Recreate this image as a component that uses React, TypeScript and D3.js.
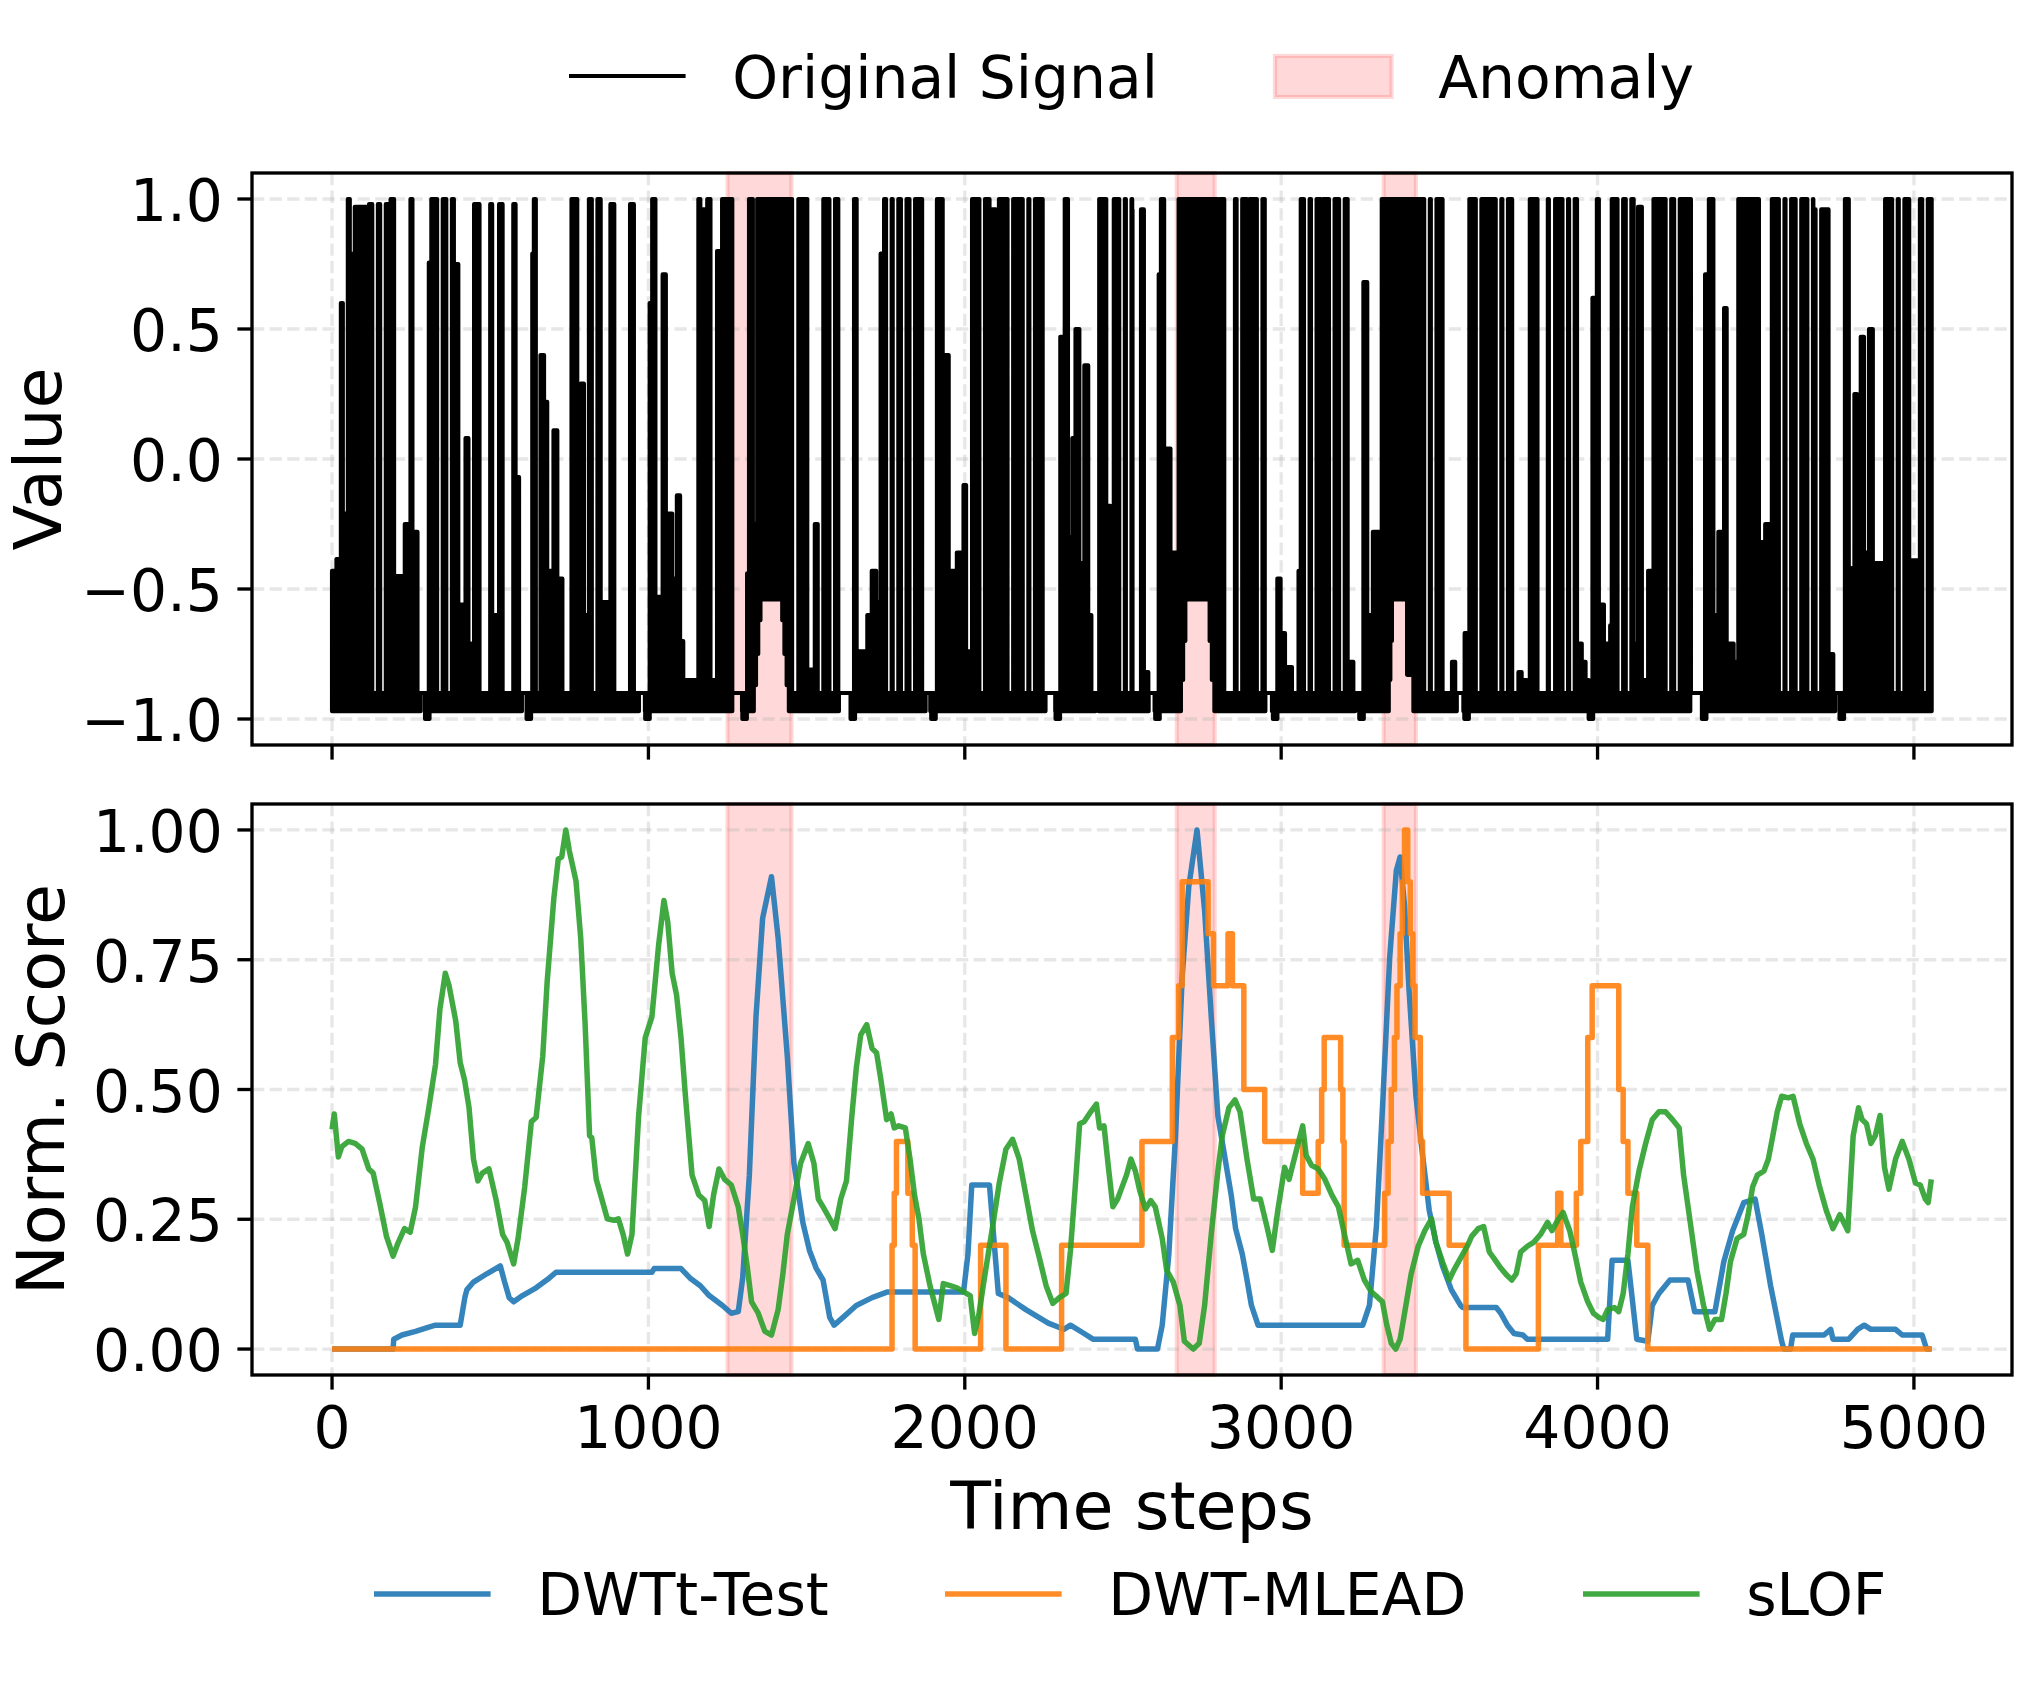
import React from "react";
import * as d3 from "d3";

const W = 2040;
const H = 1681;
const FONT = "'DejaVu Sans', Verdana, sans-serif";
const TICK_FS = 58.3;
const LABEL_FS = 66.7;

// axes boxes (pixels)
const PLOT_L = 252;
const PLOT_R = 2012;
const TOP_T = 173;
const TOP_B = 745;
const BOT_T = 804;
const BOT_B = 1375;

const X_TICKS = [0, 1000, 2000, 3000, 4000, 5000];
const VALUE_TICKS = [-1.0, -0.5, 0.0, 0.5, 1.0];
const SCORE_TICKS = [0, 0.25, 0.5, 0.75, 1.0];

const ANOMALY_RANGES: [number, number][] = [
  [1250, 1452],
  [2670, 2790],
  [3324, 3426],
];

const T_END = 5056;

// Original signal, read as an envelope: dense bursts [start, end, top]
const SIGNAL_BURSTS: [number, number, number][] = [
  [0, 14, -0.43], [14, 28, -0.385], [28, 34, 0.6], [34, 44, -0.21], [44, 49, -0.4],
  [50, 56, 1.0], [56, 62, 0.79], [72, 112, 0.97], [117, 180, 0.98], [185, 196, 1.0],
  [201, 230, -0.45], [230, 241, -0.25], [248, 254, 1.0], [259, 270, -0.28],
  [306, 314, 0.755], [314, 385, 1.0], [385, 399, 0.75], [399, 422, -0.56], [422, 431, 0.08],
  [431, 440, -0.71], [449, 506, 0.98], [506, 528, -0.6], [528, 580, 0.98], [580, 591, -0.07],
  [633, 638, 0.79], [638, 644, 1.0], [659, 670, 0.4], [670, 680, 0.22], [686, 700, -0.43],
  [700, 712, 0.11], [712, 728, -0.46], [757, 775, 1.0], [775, 786, -0.2], [786, 796, 0.29],
  [796, 812, -0.6], [812, 849, 1.0], [849, 880, -0.55], [880, 954, 0.98],
  [1004, 1012, 0.6], [1012, 1022, 1.0], [1022, 1045, -0.53], [1045, 1055, 0.71],
  [1055, 1075, -0.21], [1075, 1090, -0.46], [1090, 1100, -0.14], [1100, 1110, -0.7],
  [1118, 1154, -0.85], [1158, 1164, 1.0], [1170, 1178, 0.96], [1186, 1196, 1.0],
  [1202, 1217, -0.85], [1217, 1233, 0.8], [1233, 1265, 1.0], [1312, 1318, -0.44],
  [1318, 1330, 1.0], [1330, 1344, -0.25], [1344, 1454, 1.0], [1456, 1502, 1.0],
  [1502, 1526, -0.81], [1526, 1538, -0.25], [1538, 1600, 1.0], [1650, 1658, 1.0],
  [1665, 1692, -0.74], [1692, 1706, -0.6], [1706, 1720, -0.43], [1720, 1730, -0.55],
  [1734, 1745, 0.79], [1745, 1800, 1.0], [1800, 1815, 0.96], [1815, 1865, 1.0],
  [1912, 1930, 1.0], [1930, 1949, 0.4], [1950, 1975, -0.43], [1975, 1990, -0.36],
  [1996, 2004, -0.1], [2004, 2020, -0.74], [2023, 2078, 1.0], [2086, 2098, 0.96],
  [2098, 2108, 0.33], [2108, 2190, 1.0], [2195, 2246, 1.0], [2302, 2316, 0.47],
  [2316, 2326, 1.0], [2326, 2340, -0.3], [2340, 2350, 0.08], [2350, 2362, 0.5],
  [2362, 2378, -0.4], [2378, 2390, 0.36], [2390, 2400, -0.6], [2425, 2447, 1.0],
  [2447, 2460, -0.18], [2465, 2471, -0.64], [2471, 2529, 1.0], [2529, 2566, 0.96],
  [2566, 2580, -0.82], [2613, 2620, 0.71], [2620, 2630, 1.0], [2630, 2638, -0.43],
  [2638, 2650, 0.04], [2650, 2668, -0.36], [2676, 2800, 1.0], [2806, 2876, 1.0],
  [2876, 2892, 1.0], [2900, 2948, 1.0], [2988, 2998, -0.46], [2998, 3012, -0.67],
  [3012, 3034, -0.8], [3055, 3062, -0.43], [3062, 3125, 1.0], [3132, 3210, 1.0],
  [3213, 3228, -0.78], [3260, 3272, 0.68], [3276, 3290, -0.6], [3290, 3318, -0.28],
  [3318, 3432, 1.0], [3434, 3528, 1.0], [3540, 3550, -0.78], [3580, 3586, -0.67],
  [3595, 3655, 1.0], [3660, 3730, 1.0], [3750, 3760, -0.82], [3766, 3776, -0.85],
  [3786, 3846, 1.0], [3866, 3935, 1.0], [3935, 3950, -0.71], [3950, 3962, -0.78],
  [3962, 3972, -0.85], [3984, 3998, 0.62], [3998, 4004, 1.0], [4008, 4020, -0.56],
  [4020, 4040, -0.71], [4040, 4045, -0.64], [4045, 4114, 1.0], [4114, 4128, -0.71],
  [4128, 4140, 0.97], [4140, 4160, -0.85], [4160, 4177, -0.43], [4177, 4295, 1.0],
  [4340, 4352, 0.71], [4352, 4366, 1.0], [4366, 4382, -0.6], [4382, 4400, -0.28],
  [4400, 4408, 0.58], [4408, 4430, -0.71], [4430, 4445, -0.78], [4445, 4510, 1.0],
  [4510, 4530, -0.32], [4530, 4548, -0.25], [4551, 4682, 1.0], [4682, 4730, 0.96],
  [4730, 4745, -0.75], [4782, 4794, 1.0], [4803, 4812, -0.42], [4812, 4820, 0.25],
  [4820, 4832, -0.46], [4832, 4842, 0.47], [4842, 4858, -0.36], [4858, 4870, 0.5],
  [4870, 4905, -0.4], [4909, 4985, 1.0], [4985, 5015, -0.39], [5019, 5056, 1.0],
];

// thin white streaks seen inside the dense bursts (signal falls back to the floor)
const SIGNAL_GAPS = [
  136, 161, 341, 370, 475, 491, 548, 564, 830, 901, 917, 933,
  1465, 1544, 1581, 1760, 1781, 1807, 1834, 2055, 2144, 2192, 2213, 2497, 2518, 2539,
  2548, 2829, 2845, 2868, 2932, 3081, 3103, 3160, 3192, 3461, 3482, 3519, 3624, 3687,
  3708, 3819, 3834, 3898, 3919,
  4072, 4098, 4224, 4251, 4582, 4603, 4635, 4672, 4698, 4940, 4961, 5035,
];

// lower edge lifted inside bursts (the pink gaps in the anomalies) [start, end, low]
const SIGNAL_HOLLOWS: [number, number, number][] = [
  [1333, 1340, -0.87], [1340, 1347, -0.75], [1347, 1354, -0.62], [1354, 1423, -0.54],
  [1423, 1430, -0.62], [1430, 1437, -0.75], [1437, 1444, -0.87],
  [2683, 2690, -0.85], [2690, 2697, -0.7], [2697, 2774, -0.54], [2774, 2781, -0.7],
  [2781, 2789, -0.85],
  [3340, 3345, -0.85], [3345, 3350, -0.7], [3350, 3398, -0.54], [3398, 3418, -0.83],
];

// stretches where the signal rests flat at about -0.9
const SIGNAL_FLAT: [number, number][] = [
  [280, 294], [600, 615], [970, 989], [1265, 1296], [1602, 1639], [1876, 1891],
  [2255, 2286], [2413, 2423], [2581, 2600], [2950, 2971], [3234, 3250], [3555, 3576],
  [4293, 4330], [4751, 4766],
];

// short drops to -1.0
const SIGNAL_DIPS = [301, 622, 997, 1304, 1646, 1901, 2294, 2609, 2981, 3254, 3586, 3979, 4337, 4772];

const DWTT_TEST: [number, number][] = [
  [0, 0], [193, 0], [195, 0.019], [221, 0.027], [264, 0.034], [306, 0.042], [327, 0.046],
  [405, 0.046], [420, 0.1], [426, 0.114], [447, 0.129], [489, 0.145], [532, 0.16], [545, 0.13],
  [560, 0.099], [574, 0.091], [602, 0.103], [645, 0.118], [687, 0.137], [708, 0.148],
  [1011, 0.148], [1018, 0.155], [1103, 0.155], [1131, 0.137], [1164, 0.122], [1192, 0.103],
  [1234, 0.084], [1262, 0.069], [1284, 0.072], [1298, 0.137], [1319, 0.335], [1340, 0.64],
  [1361, 0.83], [1389, 0.91], [1410, 0.792], [1439, 0.564], [1460, 0.358], [1488, 0.244],
  [1509, 0.19], [1530, 0.156], [1552, 0.133], [1573, 0.061], [1587, 0.046], [1615, 0.061],
  [1657, 0.084], [1707, 0.099], [1756, 0.11], [1996, 0.11], [2010, 0.183], [2022, 0.316],
  [2078, 0.316], [2106, 0.107], [2137, 0.099], [2193, 0.076], [2264, 0.05], [2313, 0.038],
  [2334, 0.046], [2377, 0.03], [2405, 0.019], [2539, 0.019], [2546, 0], [2609, 0],
  [2624, 0.046], [2645, 0.183], [2666, 0.411], [2687, 0.716], [2708, 0.891], [2734, 1.0],
  [2758, 0.845], [2779, 0.64], [2800, 0.449], [2821, 0.373], [2842, 0.297], [2856, 0.232],
  [2877, 0.183], [2891, 0.137], [2906, 0.084], [2927, 0.046], [3258, 0.046], [3279, 0.084],
  [3301, 0.236], [3322, 0.487], [3343, 0.754], [3364, 0.922], [3376, 0.948], [3390, 0.853],
  [3404, 0.693], [3426, 0.487], [3447, 0.373], [3468, 0.267], [3489, 0.206], [3510, 0.16],
  [3538, 0.114], [3567, 0.084], [3574, 0.08], [3680, 0.08], [3694, 0.069], [3715, 0.046],
  [3736, 0.03], [3764, 0.027], [3778, 0.019], [4032, 0.019], [4046, 0.171], [4096, 0.171],
  [4124, 0.019], [4159, 0.015], [4173, 0.084], [4194, 0.107], [4229, 0.133], [4286, 0.133],
  [4307, 0.072], [4371, 0.072], [4399, 0.168], [4427, 0.228], [4462, 0.282], [4498, 0.289],
  [4519, 0.221], [4547, 0.122], [4582, 0.015], [4589, 0], [4610, 0], [4617, 0.027],
  [4716, 0.027], [4737, 0.038], [4744, 0.019], [4794, 0.019], [4822, 0.038], [4843, 0.046],
  [4864, 0.038], [4942, 0.038], [4963, 0.027], [5026, 0.027], [5040, 0], [5056, 0],
];

// step function: value holds from t until the next entry
const DWT_MLEAD: [number, number][] = [
  [0, 0], [1770, 0.2], [1777, 0.3], [1784, 0.4], [1820, 0.3], [1834, 0.2], [1843, 0],
  [2050, 0.2], [2130, 0], [2306, 0.2], [2560, 0.4], [2656, 0.6], [2676, 0.7], [2687, 0.9],
  [2769, 0.8], [2786, 0.7], [2832, 0.8], [2846, 0.7], [2882, 0.5], [2948, 0.4], [3068, 0.3],
  [3117, 0.4], [3128, 0.5], [3136, 0.6], [3188, 0.5], [3195, 0.4], [3199, 0.2], [3327, 0.3],
  [3338, 0.4], [3348, 0.5], [3358, 0.6], [3366, 0.7], [3376, 0.8], [3383, 0.9], [3390, 1.0],
  [3400, 0.9], [3408, 0.8], [3416, 0.7], [3423, 0.6], [3440, 0.4], [3447, 0.3], [3531, 0.2],
  [3584, 0], [3813, 0.2], [3874, 0.3], [3884, 0.2], [3933, 0.3], [3947, 0.4], [3969, 0.6],
  [3983, 0.7], [4067, 0.5], [4081, 0.4], [4096, 0.3], [4124, 0.2], [4159, 0], [5056, 0],
];

const SLOF: [number, number][] = [
  [0, 0.423], [7, 0.453], [20, 0.37], [31, 0.39], [52, 0.4], [73, 0.396], [95, 0.385],
  [116, 0.347], [130, 0.339], [151, 0.28], [172, 0.217], [193, 0.179], [207, 0.202],
  [229, 0.232], [247, 0.225], [264, 0.274], [285, 0.388], [306, 0.465], [327, 0.548],
  [341, 0.655], [358, 0.724], [370, 0.7], [391, 0.632], [405, 0.552], [419, 0.518],
  [433, 0.465], [447, 0.366], [461, 0.324], [475, 0.339], [496, 0.347], [518, 0.289],
  [539, 0.221], [553, 0.206], [574, 0.164], [588, 0.213], [609, 0.312], [630, 0.438],
  [645, 0.446], [666, 0.564], [680, 0.708], [701, 0.868], [715, 0.944], [726, 0.948],
  [739, 1.0], [750, 0.96], [771, 0.902], [786, 0.792], [800, 0.625], [814, 0.411],
  [821, 0.407], [835, 0.327], [849, 0.297], [870, 0.251], [891, 0.248], [905, 0.251],
  [920, 0.221], [934, 0.183], [948, 0.221], [969, 0.449], [990, 0.6], [1011, 0.64],
  [1032, 0.777], [1049, 0.864], [1061, 0.823], [1075, 0.724], [1089, 0.682], [1103, 0.6],
  [1117, 0.487], [1138, 0.335], [1159, 0.297], [1178, 0.286], [1192, 0.236], [1206, 0.297],
  [1223, 0.347], [1241, 0.327], [1262, 0.316], [1284, 0.274], [1298, 0.221], [1312, 0.16],
  [1326, 0.091], [1347, 0.069], [1368, 0.034], [1389, 0.027], [1410, 0.076], [1425, 0.145],
  [1439, 0.221], [1460, 0.289], [1481, 0.358], [1505, 0.396], [1523, 0.358], [1537, 0.289],
  [1552, 0.274], [1573, 0.251], [1590, 0.232], [1608, 0.289], [1626, 0.324], [1643, 0.449],
  [1657, 0.541], [1671, 0.605], [1690, 0.625], [1707, 0.579], [1721, 0.571], [1735, 0.518],
  [1753, 0.442], [1767, 0.453], [1777, 0.426], [1791, 0.43], [1812, 0.426], [1827, 0.366],
  [1841, 0.297], [1855, 0.251], [1869, 0.183], [1890, 0.122], [1918, 0.057], [1932, 0.126],
  [1954, 0.122], [1975, 0.118], [1996, 0.11], [2017, 0.103], [2031, 0.03], [2045, 0.069],
  [2066, 0.152], [2088, 0.236], [2109, 0.32], [2130, 0.385], [2151, 0.404], [2172, 0.366],
  [2193, 0.297], [2214, 0.228], [2236, 0.175], [2257, 0.122], [2278, 0.088], [2299, 0.099],
  [2320, 0.107], [2334, 0.19], [2349, 0.312], [2363, 0.434], [2377, 0.438], [2398, 0.457],
  [2416, 0.472], [2426, 0.426], [2440, 0.43], [2454, 0.35], [2468, 0.274], [2483, 0.289],
  [2497, 0.312], [2511, 0.335], [2525, 0.366], [2539, 0.343], [2553, 0.305], [2571, 0.27],
  [2588, 0.286], [2602, 0.274], [2624, 0.213], [2638, 0.152], [2659, 0.129], [2680, 0.084],
  [2694, 0.015], [2722, 0.0], [2741, 0.011], [2758, 0.084], [2779, 0.221], [2800, 0.343],
  [2814, 0.411], [2835, 0.465], [2854, 0.48], [2870, 0.457], [2892, 0.366], [2913, 0.289],
  [2934, 0.289], [2955, 0.236], [2972, 0.19], [2990, 0.27], [3011, 0.35], [3025, 0.327],
  [3047, 0.38], [3068, 0.43], [3079, 0.373], [3096, 0.354], [3117, 0.347], [3138, 0.327],
  [3160, 0.297], [3181, 0.274], [3200, 0.221], [3221, 0.164], [3242, 0.171], [3263, 0.133],
  [3285, 0.11], [3306, 0.099], [3320, 0.091], [3334, 0.046], [3348, 0.011], [3362, 0.0],
  [3376, 0.019], [3390, 0.069], [3411, 0.145], [3433, 0.198], [3454, 0.228], [3475, 0.251],
  [3489, 0.206], [3510, 0.168], [3531, 0.133], [3546, 0.152], [3567, 0.175], [3588, 0.198],
  [3602, 0.217], [3623, 0.232], [3640, 0.236], [3658, 0.187], [3672, 0.175], [3694, 0.156],
  [3715, 0.141], [3729, 0.133], [3743, 0.145], [3757, 0.187], [3778, 0.198], [3799, 0.206],
  [3820, 0.221], [3842, 0.244], [3856, 0.228], [3874, 0.248], [3891, 0.263], [3912, 0.228],
  [3926, 0.19], [3947, 0.129], [3969, 0.091], [3987, 0.069], [4004, 0.061], [4018, 0.057],
  [4032, 0.076], [4053, 0.08], [4067, 0.072], [4081, 0.107], [4096, 0.183], [4110, 0.274],
  [4131, 0.343], [4152, 0.396], [4173, 0.442], [4194, 0.457], [4215, 0.457], [4237, 0.442],
  [4258, 0.426], [4272, 0.335], [4293, 0.244], [4314, 0.152], [4335, 0.084], [4354, 0.038],
  [4371, 0.057], [4392, 0.057], [4406, 0.107], [4420, 0.168], [4441, 0.213], [4462, 0.221],
  [4476, 0.259], [4490, 0.312], [4505, 0.335], [4526, 0.343], [4540, 0.366], [4554, 0.411],
  [4568, 0.457], [4582, 0.487], [4603, 0.484], [4618, 0.487], [4639, 0.434], [4660, 0.396],
  [4681, 0.366], [4702, 0.312], [4723, 0.267], [4744, 0.232], [4766, 0.259], [4791, 0.228],
  [4808, 0.411], [4825, 0.465], [4836, 0.442], [4850, 0.434], [4864, 0.396], [4878, 0.411],
  [4893, 0.45], [4907, 0.35], [4921, 0.308], [4942, 0.366], [4963, 0.4], [4984, 0.366],
  [5005, 0.32], [5020, 0.316], [5036, 0.289], [5045, 0.282], [5055, 0.327],
];

const SERIES = [
  { name: "DWTt-Test", data: DWTT_TEST, color: "#1f77b4", step: false },
  { name: "DWT-MLEAD", data: DWT_MLEAD, color: "#ff7f0e", step: true },
  { name: "sLOF", data: SLOF, color: "#2ca02c", step: false },
];

type EnvPt = { t: number; hi: number; lo: number };

function inside(t: number, a: number, b: number) {
  return t >= a && t < b;
}

// turn the read-off bursts into a step envelope (top / bottom per stretch)
function buildEnvelope(): EnvPt[] {
  const dips: [number, number][] = SIGNAL_DIPS.map((d) => [d - 7, d + 7]);
  const gaps: [number, number][] = SIGNAL_GAPS.map((g) => [g - 9, g + 9]);
  const cuts = new Set<number>([0, T_END]);
  const addCuts = (list: number[][]) =>
    list.forEach((b) => {
      cuts.add(b[0]);
      cuts.add(b[1]);
    });
  addCuts(SIGNAL_BURSTS);
  addCuts(SIGNAL_HOLLOWS);
  addCuts(SIGNAL_FLAT);
  addCuts(dips);
  addCuts(gaps);
  const ts = Array.from(cuts).filter((t) => t >= 0 && t <= T_END).sort((a, b) => a - b);
  const pts: EnvPt[] = [];
  for (let i = 0; i < ts.length - 1; i++) {
    const a = ts[i];
    const b = ts[i + 1];
    const m = (a + b) / 2;
    let hi = -0.9;
    SIGNAL_BURSTS.forEach((c) => {
      if (inside(m, c[0], c[1])) hi = Math.max(hi, c[2]);
    });
    if (gaps.some((g) => inside(m, g[0], g[1]))) hi = -0.9;
    let lo = -0.97;
    if (SIGNAL_FLAT.some((f) => inside(m, f[0], f[1]))) lo = -0.9;
    SIGNAL_HOLLOWS.forEach((h) => {
      if (inside(m, h[0], h[1])) lo = h[2];
    });
    if (dips.some((d) => inside(m, d[0], d[1]))) lo = -1.0;
    if (hi < lo) hi = lo;
    pts.push({ t: a, hi, lo }, { t: b, hi, lo });
  }
  return pts;
}

export default function App() {
  const x = d3.scaleLinear().domain([-253, 5310]).range([PLOT_L, PLOT_R]);
  const yTop = d3.scaleLinear().domain([-1.1, 1.1]).range([TOP_B, TOP_T]);
  const yBot = d3.scaleLinear().domain([-0.05, 1.05]).range([BOT_B, BOT_T]);

  const envelope = buildEnvelope();
  const sigArea = d3
    .area<EnvPt>()
    .x((d) => x(d.t))
    .y0((d) => yTop(d.lo))
    .y1((d) => yTop(d.hi));

  const fmtTop = d3.format(".1f");
  const fmtBot = d3.format(".2f");

  const grid = {
    stroke: "#b0b0b0",
    strokeOpacity: 0.3,
    strokeWidth: 3.33,
    strokeDasharray: "12.3 5.3",
  };
  const tickLen = 14.6;
  const lw = 3.33;

  const panel = (
    top: number,
    bottom: number,
    y: d3.ScaleLinear<number, number>,
    yTicks: number[],
    fmt: (n: number) => string,
    key: string,
    content: React.ReactNode,
    showXLabels: boolean,
  ) => (
    <g key={key}>
      {ANOMALY_RANGES.map(([a, b], i) => (
        <rect
          key={`span-${i}`}
          x={x(a)}
          y={top}
          width={x(b) - x(a)}
          height={bottom - top}
          fill="red"
          fillOpacity={0.15}
          stroke="red"
          strokeOpacity={0.15}
          strokeWidth={4.2}
        />
      ))}
      {X_TICKS.map((t) => (
        <line key={`gx-${t}`} x1={x(t)} x2={x(t)} y1={top} y2={bottom} {...grid} />
      ))}
      {yTicks.map((v) => (
        <line key={`gy-${v}`} x1={PLOT_L} x2={PLOT_R} y1={y(v)} y2={y(v)} {...grid} />
      ))}
      {content}
      <rect
        x={PLOT_L}
        y={top}
        width={PLOT_R - PLOT_L}
        height={bottom - top}
        fill="none"
        stroke="#000"
        strokeWidth={lw}
      />
      {X_TICKS.map((t) => (
        <line key={`tx-${t}`} x1={x(t)} x2={x(t)} y1={bottom} y2={bottom + tickLen} stroke="#000" strokeWidth={lw} />
      ))}
      {showXLabels &&
        X_TICKS.map((t) => (
          <text key={`lx-${t}`} x={x(t)} y={bottom + 73} textAnchor="middle" fontSize={TICK_FS}>
            {t}
          </text>
        ))}
      {yTicks.map((v) => (
        <g key={`ty-${v}`}>
          <line x1={PLOT_L - tickLen} x2={PLOT_L} y1={y(v)} y2={y(v)} stroke="#000" strokeWidth={lw} />
          <text x={PLOT_L - 2 * tickLen} y={y(v) + 22} textAnchor="end" fontSize={TICK_FS}>
            {fmt(v)}
          </text>
        </g>
      ))}
    </g>
  );

  const topContent = (
    <path
      d={sigArea(envelope) ?? ""}
      fill="#000"
      stroke="#000"
      strokeWidth={4.2}
      strokeLinejoin="round"
    />
  );

  const botContent = (
    <g>
      {SERIES.map((s) => {
        const gen = d3
          .line<[number, number]>()
          .x((d) => x(d[0]))
          .y((d) => yBot(d[1]))
          .curve(s.step ? d3.curveStepAfter : d3.curveLinear);
        return (
          <path
            key={s.name}
            d={gen(s.data) ?? ""}
            fill="none"
            stroke={s.color}
            strokeOpacity={0.9}
            strokeWidth={5.5}
            strokeLinejoin="round"
          />
        );
      })}
    </g>
  );

  const legendLine = 116.6;
  const bottomLegendX = [374, 945, 1583];

  return (
    <svg
      width={W}
      height={H}
      viewBox={`0 0 ${W} ${H}`}
      style={{ position: "absolute", left: 0, top: 0, background: "#fff" }}
      fontFamily={FONT}
    >
      <rect x={0} y={0} width={W} height={H} fill="#fff" />

      {/* top legend */}
      <line x1={569} x2={569 + legendLine} y1={76} y2={76} stroke="#000" strokeWidth={4.2} />
      <text x={569 + legendLine + 46.6} y={97.5} fontSize={TICK_FS}>
        Original Signal
      </text>
      <rect
        x={1275}
        y={56}
        width={legendLine}
        height={41}
        fill="red"
        fillOpacity={0.15}
        stroke="red"
        strokeOpacity={0.15}
        strokeWidth={4.2}
      />
      <text x={1275 + legendLine + 46.6} y={97.5} fontSize={TICK_FS}>
        Anomaly
      </text>

      {panel(TOP_T, TOP_B, yTop, VALUE_TICKS, fmtTop, "top", topContent, false)}
      {panel(BOT_T, BOT_B, yBot, SCORE_TICKS, fmtBot, "bot", botContent, true)}

      {/* axis labels */}
      <text
        transform={`translate(61, ${(TOP_T + TOP_B) / 2}) rotate(-90)`}
        textAnchor="middle"
        fontSize={LABEL_FS}
      >
        Value
      </text>
      <text
        transform={`translate(64, ${(BOT_T + BOT_B) / 2}) rotate(-90)`}
        textAnchor="middle"
        fontSize={LABEL_FS}
      >
        Norm. Score
      </text>
      <text x={(PLOT_L + PLOT_R) / 2} y={1529} textAnchor="middle" fontSize={LABEL_FS}>
        Time steps
      </text>

      {/* bottom legend */}
      {SERIES.map((s, i) => (
        <g key={`leg-${s.name}`}>
          <line
            x1={bottomLegendX[i]}
            x2={bottomLegendX[i] + legendLine}
            y1={1594}
            y2={1594}
            stroke={s.color}
            strokeOpacity={0.9}
            strokeWidth={5.5}
          />
          <text x={bottomLegendX[i] + legendLine + 46.6} y={1615} fontSize={TICK_FS}>
            {s.name}
          </text>
        </g>
      ))}
    </svg>
  );
}
